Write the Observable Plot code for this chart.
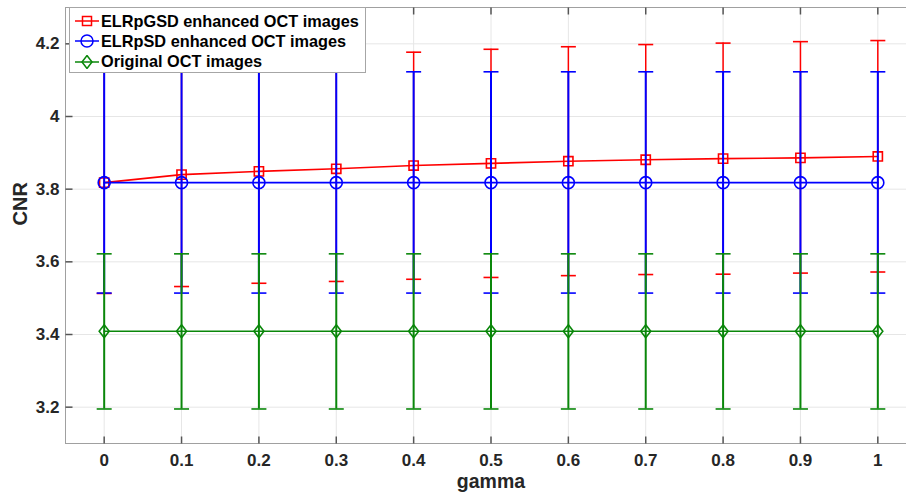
<!DOCTYPE html>
<html><head><meta charset="utf-8">
<script src="https://cdn.jsdelivr.net/npm/d3@7"></script>
<script src="https://cdn.jsdelivr.net/npm/@observablehq/plot@0.6"></script>
<style>
body{margin:0;background:#fff;}
#wrap{position:relative;width:906px;height:497px;overflow:hidden;font-family:"Liberation Sans",Arial,sans-serif;}
#wrap svg{font-family:"Liberation Sans",Arial,sans-serif;}
#legend{position:absolute;left:69px;top:7px;width:297px;height:66px;border:1px solid #a6a6a6;background:#fff;box-sizing:border-box;padding-top:3px}
#legend .row{display:flex;align-items:center;height:20.3px;font-weight:bold;font-size:16.3px;color:#000;white-space:nowrap}
#legend svg{margin-left:4px;margin-right:1px}
</style></head>
<body><div id="wrap"><div id="chart"></div><div id="legend"></div></div>
<script>
const gamma = [0, 0.1, 0.2, 0.3, 0.4, 0.5, 0.6, 0.7, 0.8, 0.9, 1];
const gsdMean  = [3.818, 3.840, 3.849, 3.856, 3.865, 3.871, 3.877, 3.881, 3.884, 3.886, 3.890];
const gsdUpper = [4.123, 4.148, 4.157, 4.166, 4.177, 4.185, 4.192, 4.198, 4.202, 4.206, 4.209];
const gsdLower = [3.513, 3.532, 3.541, 3.546, 3.552, 3.557, 3.562, 3.565, 3.566, 3.569, 3.572];
const psdMean  = [3.818, 3.818, 3.818, 3.818, 3.818, 3.818, 3.818, 3.818, 3.818, 3.818, 3.818];
const psdUpper = [4.123, 4.123, 4.123, 4.123, 4.123, 4.123, 4.123, 4.123, 4.123, 4.123, 4.123];
const psdLower = [3.514, 3.514, 3.514, 3.514, 3.514, 3.514, 3.514, 3.514, 3.514, 3.514, 3.514];
const origMean  = [3.409, 3.409, 3.409, 3.409, 3.409, 3.409, 3.409, 3.409, 3.409, 3.409, 3.409];
const origUpper = [3.622, 3.622, 3.622, 3.622, 3.622, 3.622, 3.622, 3.622, 3.622, 3.622, 3.622];
const origLower = [3.195, 3.195, 3.195, 3.195, 3.195, 3.195, 3.195, 3.195, 3.195, 3.195, 3.195];
const yTicks = [3.2, 3.4, 3.6, 3.8, 4.0, 4.2];
const seriesNames = ["ELRpGSD enhanced OCT images", "ELRpSD enhanced OCT images", "Original OCT images"];
const seriesColors = ["#ff0000", "#0000ff", "#0a870a"];
const ruleWidths = [1.5, 2, 2];

const capSym = {draw(c){c.moveTo(-7.5,0);c.lineTo(7.5,0);}};
const squareSym = {draw(c){const h=4.6;c.moveTo(-h,-h);c.lineTo(h,-h);c.lineTo(h,h);c.lineTo(-h,h);c.closePath();}};
const circleSym = {draw(c){const r=6;c.moveTo(r,0);c.arc(0,0,r,0,2*Math.PI);}};
const diamondSym = {draw(c){const w=5,h=6.5;c.moveTo(0,-h);c.lineTo(w,0);c.lineTo(0,h);c.lineTo(-w,0);c.closePath();}};
const tickDown = {draw(c){c.moveTo(0,0);c.lineTo(0,7);}};
const tickUp = {draw(c){c.moveTo(0,0);c.lineTo(0,-7);}};
const tickRight = {draw(c){c.moveTo(0,0);c.lineTo(7,0);}};
const symbols = [squareSym, circleSym, diamondSym];

const series = [
  gamma.map((g,i)=>({g, m: gsdMean[i], lo: gsdLower[i], hi: gsdUpper[i]})),
  gamma.map((g,i)=>({g, m: psdMean[i], lo: psdLower[i], hi: psdUpper[i]})),
  gamma.map((g,i)=>({g, m: origMean[i], lo: origLower[i], hi: origUpper[i]}))
];

const seriesMarks = series.flatMap((data, k) => {
  const col = seriesColors[k];
  return [
    Plot.ruleX(data, {x: "g", y1: "lo", y2: "hi", stroke: col, strokeWidth: ruleWidths[k]}),
    Plot.dot(data, {x: "g", y: "lo", symbol: capSym, stroke: col, strokeWidth: 1.6}),
    Plot.dot(data, {x: "g", y: "hi", symbol: capSym, stroke: col, strokeWidth: 1.6}),
    Plot.line(data, {x: "g", y: "m", stroke: col, strokeWidth: 1.6}),
    Plot.dot(data, {x: "g", y: "m", symbol: symbols[k], stroke: col, strokeWidth: 1.6, fill: "none"})
  ];
});

const fmt = d3.format("~g");
const chart = Plot.plot({
  width: 906, height: 497,
  marginLeft: 65, marginTop: 7, marginBottom: 54, marginRight: -10,
  style: {fontFamily: "Liberation Sans, Arial, sans-serif", fontWeight: "bold", fontSize: "17px", color: "#262626", background: "#fff"},
  x: {domain: [-0.05, 1.05]},
  y: {domain: [3.1, 4.3]},
  marks: [
    Plot.ruleX(gamma, {x: d=>d, stroke: "#e6e6e6", strokeWidth: 1}),
    Plot.ruleY(yTicks, {y: d=>d, stroke: "#e6e6e6", strokeWidth: 1}),
    Plot.frame({stroke: "#a0a0a0", strokeWidth: 1}),
    Plot.dot(gamma, {x: d=>d, frameAnchor: "top", symbol: tickDown, stroke: "#555"}),
    Plot.dot(gamma, {x: d=>d, frameAnchor: "bottom", symbol: tickUp, stroke: "#555"}),
    Plot.dot(yTicks, {y: d=>d, frameAnchor: "left", symbol: tickRight, stroke: "#555"}),
    Plot.axisX(gamma, {tickSize: 0, tickPadding: 10, tickFormat: fmt, label: null, fontSize: 17, fontWeight: "bold", fill: "#262626"}),
    Plot.axisY(yTicks, {tickSize: 0, tickPadding: 6, tickFormat: fmt, label: null, fontSize: 17, fontWeight: "bold", fill: "#262626"}),
    Plot.text(["gamma"], {frameAnchor: "bottom", dy: 44, text: d=>d, fontSize: 19.5, fontWeight: "bold", fill: "#262626"}),
    Plot.text(["CNR"], {frameAnchor: "left", dx: -45, rotate: -90, text: d=>d, fontSize: 20, fontWeight: "bold", fill: "#262626"}),
    ...seriesMarks
  ]
});
document.getElementById("chart").appendChild(chart);

const legend = document.getElementById("legend");
const legendSyms = [
  '<rect x="8.5" y="2.5" width="9" height="9" fill="none"/>',
  '<circle cx="13" cy="7" r="6" fill="none"/>',
  '<path d="M13,0.5L18,7L13,13.5L8,7Z" fill="none"/>'
];
seriesNames.forEach((name, k) => {
  const row = document.createElement("div");
  row.className = "row";
  row.innerHTML = `<svg width="26" height="14" stroke="${seriesColors[k]}" stroke-width="1.5"><line x1="1" y1="7" x2="25" y2="7"/>${legendSyms[k]}</svg><span>${name}</span>`;
  legend.appendChild(row);
});
</script>
</body></html>
